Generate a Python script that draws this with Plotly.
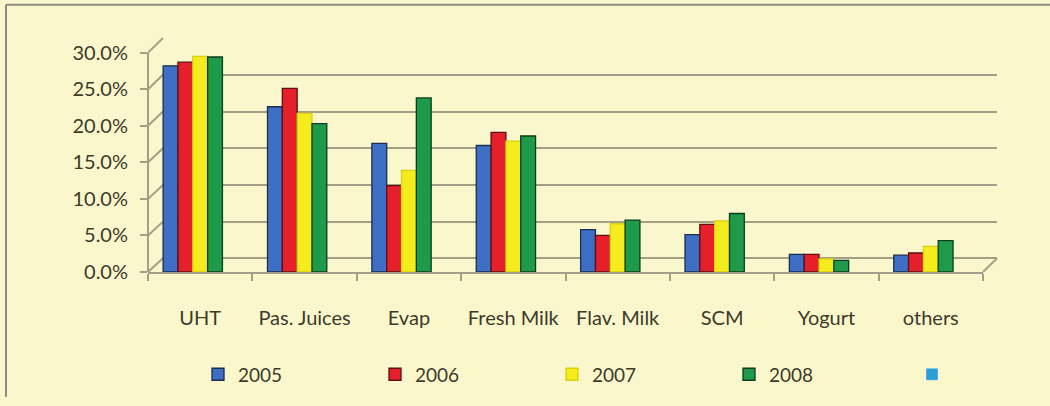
import plotly.graph_objects as go

categories = ["UHT", "Pas. Juices", "Evap", "Fresh Milk", "Flav. Milk", "SCM", "Yogurt", "others"]
years = ["2005", "2006", "2007", "2008"]
v2005 = [0.282, 0.226, 0.176, 0.173, 0.058, 0.051, 0.024, 0.023]
v2006 = [0.287, 0.251, 0.118, 0.191, 0.050, 0.065, 0.024, 0.026]
v2007 = [0.295, 0.217, 0.139, 0.179, 0.066, 0.070, 0.018, 0.035]
v2008 = [0.294, 0.203, 0.238, 0.186, 0.071, 0.080, 0.016, 0.043]
y_ticks = [0.0, 0.05, 0.10, 0.15, 0.20, 0.25, 0.30]

series = [v2005, v2006, v2007, v2008]
colors = ["#3f6fc4", "#e6202a", "#f4ec1c", "#1f9a4a"]
edges = ["#1a2c50", "#5a1012", "#d8d010", "#0c3d1c"]

# ---- layout geometry (pixels) ----
W_FIG, H_FIG = 1050, 406
L, R = 148, 997          # plot area left / right (incl. depth)
T, B = 38, 278           # plot area top / bottom
DEPTH = 14               # 3D wall depth offset (px)
PW, PH = R - L, B - T
front_top_px = 53        # pixel of 30% on the front axis
front_scale = (B - front_top_px) / 0.30
front_max = 0.30 + (front_top_px - T) / front_scale
back_scale = (B - DEPTH - T) / 0.30
back_min = -DEPTH / back_scale

def px(xp):
    return (xp - L) / PW

def py(yp):
    return (B - yp) / PH

bg = "#fbf7cd"
axis_col = "#a39e86"
text_col = "#3d3a2a"

fig = go.Figure()
# invisible trace so that the back-wall grid subplot (x, y) exists
fig.add_trace(go.Scatter(x=[0.5], y=[0.1], mode="markers", marker=dict(opacity=0),
                         showlegend=False, hoverinfo="skip", xaxis="x", yaxis="y"))
for name, vals, c, e in zip(years, series, colors, edges):
    fig.add_trace(go.Bar(
        x=categories, y=vals, name=name, xaxis="x2", yaxis="y2",
        marker=dict(color=c, line=dict(color=e, width=1.3)),
        legend="legend",
    ))
# empty legend entry (light blue square without label)
fig.add_trace(go.Bar(x=[None], y=[None], name=" ", xaxis="x2", yaxis="y2",
                     marker=dict(color="#2a9fd6"), showlegend=True, legend="legend2"))

# decorative 3D frame: front axis line, left-wall tick diagonals, right floor corner, border
shapes = []
for v in y_ticks:
    yf = B - v * front_scale
    yb = B - DEPTH - v * back_scale
    shapes.append(dict(type="line", xref="paper", yref="paper", layer="below",
                       x0=px(L), y0=py(yf), x1=px(L + DEPTH + 1), y1=py(yb),
                       line=dict(color=axis_col, width=2)))
shapes.append(dict(type="line", xref="paper", yref="paper",
                   x0=px(L), y0=py(B), x1=px(L), y1=py(front_top_px),
                   line=dict(color=axis_col, width=2)))
floor_right = R - DEPTH
shapes.append(dict(type="line", xref="paper", yref="paper",
                   x0=px(floor_right), y0=py(B), x1=px(R), y1=py(B - DEPTH),
                   line=dict(color=axis_col, width=2)))
shapes.append(dict(type="line", xref="paper", yref="paper",
                   x0=px(6), x1=px(W_FIG), y0=py(4), y1=py(4),
                   line=dict(color="#8c8c84", width=2)))
shapes.append(dict(type="line", xref="paper", yref="paper",
                   x0=px(6), x1=px(6), y0=py(4), y1=py(H_FIG),
                   line=dict(color="#8c8c84", width=2)))

fig.update_layout(
    width=W_FIG, height=H_FIG,
    paper_bgcolor=bg, plot_bgcolor="rgba(0,0,0,0)",
    margin=dict(l=L, r=W_FIG - R, t=T, b=H_FIG - B),
    barmode="group", bargap=0.29, bargroupgap=0.0,
    font=dict(family="Lato, Open Sans, sans-serif", size=19, color=text_col),
    showlegend=True,
    legend=dict(orientation="h", x=px(198), xanchor="left", y=py(383), yanchor="middle",
                entrywidth=132, itemwidth=30, font=dict(size=19, color=text_col),
                bgcolor="rgba(0,0,0,0)"),
    legend2=dict(orientation="h", x=px(912), xanchor="left", y=py(383), yanchor="middle",
                 itemwidth=30, font=dict(size=19, color=text_col),
                 bgcolor="rgba(0,0,0,0)"),
    shapes=shapes,
    # back wall grid (subplot xy, drawn underneath)
    xaxis=dict(domain=[DEPTH / PW, 1], range=[0, 1], showgrid=False, showline=False,
               zeroline=False, showticklabels=False, ticks="", fixedrange=True),
    yaxis=dict(range=[back_min, 0.3008], tickvals=y_ticks, showticklabels=False,
               ticks="", showgrid=True, gridcolor=axis_col, gridwidth=2,
               zeroline=False, showline=False, anchor="x"),
    # front category / value axes for the bars
    xaxis2=dict(domain=[0, (R - DEPTH - L) / PW], anchor="y2",
                showline=True, linecolor=axis_col, linewidth=2,
                ticks="outside", tickson="boundaries", ticklen=7, tickcolor=axis_col,
                tickwidth=2, showgrid=False, tickfont=dict(size=20),
                ticklabelstandoff=27),
    yaxis2=dict(range=[0, front_max], tickvals=y_ticks, tickformat=".1%",
                anchor="x2", showline=False, showgrid=False, zeroline=False,
                ticks="outside", ticklen=7, tickcolor=axis_col, tickwidth=2,
                tickfont=dict(size=20), ticklabelstandoff=8),
)
fig.write_html("out.html")
